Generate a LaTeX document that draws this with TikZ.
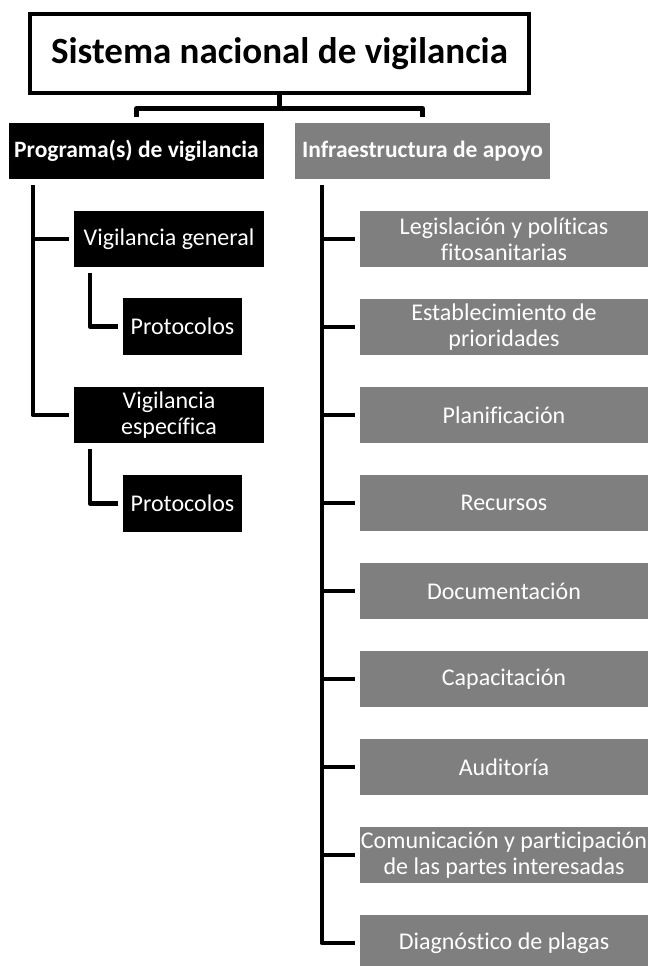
\documentclass[tikz,border=0pt]{standalone}
\usepackage{fontspec}
\setmainfont{Carlito}[Ligatures=NoCommon]
\definecolor{boxgray}{HTML}{7F7F7F}
\begin{document}
\begin{tikzpicture}[x=1pt,y=-1pt,
  conn/.style={line width=4.5pt, line join=round},
  blk/.style={fill=black, text=white, inner sep=0pt, minimum height=56pt, align=center, font=\fontsize{24}{26}\selectfont},
  gry/.style={fill=boxgray, text=white, inner sep=0pt, minimum width=288pt, minimum height=56pt, align=center, font=\fontsize{24}{26}\selectfont},
  hdr/.style={font=\bfseries\fontsize{23.5}{28}\selectfont, minimum width=255pt},
]
\clip (0,0) rectangle (649,966);
\useasboundingbox (0,0) rectangle (649,966);

\node[draw=black, line width=4pt, fill=white, minimum width=499pt, minimum height=79pt, inner sep=0pt,
      font=\bfseries\fontsize{37}{44}\selectfont] (title) at (279.5,53.5) {Sistema nacional de vigilancia};

\node[blk, hdr] (prog) at (136.5,151) {Programa(s) de vigilancia};
\node[gry, hdr] (infra) at (422.5,151) {Infraestructura de apoyo};

\node[blk, minimum width=190pt] (vg) at (169,239) {Vigilancia general};
\node[blk, minimum width=119pt, minimum height=57pt] (p1) at (182.5,326.5) {Protocolos};
\node[blk, minimum width=190pt] (ve) at (169,415) {Vigilancia\\específica};
\node[blk, minimum width=119pt, minimum height=57pt] (p2) at (182.5,503.5) {Protocolos};

\node[gry] (r1) at (504,239) {Legislación y políticas\\fitosanitarias};
\node[gry] (r2) at (504,327) {Establecimiento de\\prioridades};
\node[gry] (r3) at (504,415) {Planificación};
\node[gry] (r4) at (504,503) {Recursos};
\node[gry] (r5) at (504,591) {Documentación};
\node[gry] (r6) at (504,679) {Capacitación};
\node[gry] (r7) at (504,767) {Auditoría};
\node[gry] (r8) at (504,855) {\makebox[288pt][c]{Comunicación y participación}\\\makebox[288pt][c]{de las partes interesadas}};
\node[gry] (r9) at (504,943) {Diagnóstico de plagas};

% title connectors
\draw[conn] (title.south) -- ++(0,13.5) coordinate (tj);
\draw[conn, shorten >=6pt] (tj) -| (prog.north);
\draw[conn, shorten >=6pt] (tj) -| (infra.north);

% left tree
\coordinate (L) at ([xshift=24pt]prog.south west);
\draw[conn] ([yshift=-6pt]L) |- ([xshift=-5pt]ve.west);
\draw[conn] (L |- vg.west) -- ([xshift=-5pt]vg.west);
\draw[conn] ([xshift=16pt,yshift=-6pt]vg.south west) |- ([xshift=-5pt]p1.west);
\draw[conn] ([xshift=16pt,yshift=-6pt]ve.south west) |- ([xshift=-5pt]p2.west);

% right tree
\coordinate (R) at ([xshift=27pt]infra.south west);
\draw[conn] ([yshift=-6pt]R) |- ([xshift=-5pt]r9.west);
\foreach \k in {1,...,8}{
  \draw[conn] (R |- r\k.west) -- ([xshift=-5pt]r\k.west);
}
\end{tikzpicture}
\end{document}
